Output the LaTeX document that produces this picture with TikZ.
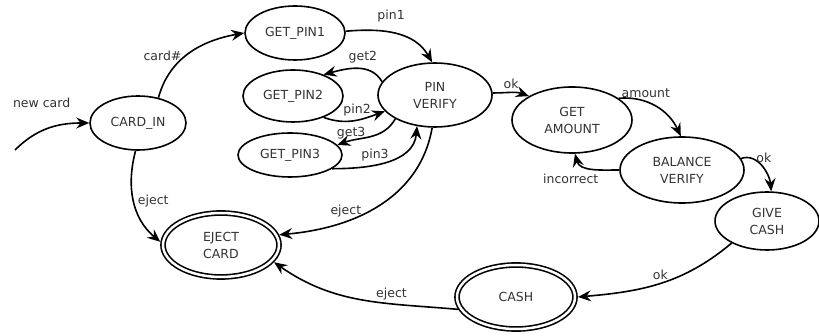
\documentclass[tikz,border=0pt]{standalone}
\usepackage{fontspec}
\setmainfont{DejaVu Sans}
\usetikzlibrary{shapes.geometric,arrows.meta}

\begin{document}
\begin{tikzpicture}[x=1pt, y=1pt, font=\fontsize{12.5}{17}\selectfont,
        st/.style={ellipse, draw, line width=1.6pt, inner sep=0pt, align=center, text=black!80},
        fin/.style={st, double, double distance=2.5pt, outer sep=3pt},
        tr/.style={line width=1.6pt, -{Stealth[length=13pt, width=11pt, inset=4.5pt]}},
        lb/.style={text=black!80}]
            \useasboundingbox (0,0) rectangle (819,-336);
            % states
            \node[st, minimum width=96, minimum height=54] (cardin) at (138,-123) {CARD\_IN};
            \node[st, minimum width=100, minimum height=54] (getpin1) at (295,-33) {GET\_PIN1};
            \node[st, minimum width=100, minimum height=52] (getpin2) at (293,-96) {GET\_PIN2};
            \node[st, minimum width=104, minimum height=44] (getpin3) at (290,-155) {GET\_PIN3};
            \node[st, minimum width=114, minimum height=64] (pinverify) at (435,-95) {PIN\\VERIFY};
            \node[st, minimum width=120, minimum height=66] (getamount) at (572,-120) {GET\\AMOUNT};
            \node[st, minimum width=124, minimum height=66] (balance) at (682,-170) {BALANCE\\VERIFY};
            \node[st, minimum width=104, minimum height=58] (givecash) at (767,-221) {GIVE\\CASH};
            \node[fin, minimum width=116, minimum height=64] (ejectcard) at (221,-245) {EJECT\\CARD};
            \node[fin, minimum width=118, minimum height=64] (cash) at (516,-297) {CASH};
            \coordinate (newin) at (15,-150);

            % transitions
            \draw[tr] (newin) to[out=45, in=180] node[lb, pos=0.4, yshift=28pt] (lnew) {new card} (cardin.west);
            \draw[tr] (cardin.51) to[out=75, in=190] node[lb, pos=0.45, left] (lcard) {card\#} (getpin1.west);
            \draw[tr] (getpin1.2) to[out=5, in=120] node[lb, pos=0.45, above=6pt] (lpin1) {pin1} (pinverify.95);
            \draw[tr] (pinverify.166) to[out=120, in=15] node[lb, pos=0.4, above=2pt] (lget2) {get2} (getpin2.35);
            \draw[tr] (getpin2.-35) to[out=-20, in=200] node[lb, pos=0.55, above] (lpin2) {pin2} (pinverify.198);
            \draw[tr] (pinverify.211) to[out=240, in=20] node[lb, pos=0.8, above, yshift=-2pt] (lget3) {get3} (getpin3.12);
            \draw[tr] (getpin3.-18) to[out=0, in=265] node[lb, pos=0.38, above] (lpin3) {pin3} (pinverify.240);
            \draw[tr] (pinverify.265) to[out=260, in=5] node[lb, pos=0.68, above] (lej1) {eject} (ejectcard.10);
            \draw[tr] (cardin.265) to[out=255, in=140] node[lb, midway, right] (lej2) {eject} (ejectcard.177);
            \draw[tr] (pinverify.2) to[out=0, in=160] node[lb, midway, above] (lok1) {ok} (getamount.151);
            \draw[tr] (getamount.25) to[out=5, in=115] node[lb, pos=0.35, above] (lamount) {amount} (balance.92);
            \draw[tr] (balance.180) to[out=180, in=-75] node[lb, pos=0.3, below left] (lincor) {incorrect} (getamount.-85);
            \draw[tr] (balance.11) to[out=20, in=95] node[lb, pos=0.4, above right, xshift=-6pt, yshift=-4pt] (lok2) {ok} (givecash.82);
            \draw[tr] (givecash.212) to[out=220, in=5] node[lb, midway, above] (lok3) {ok} (cash.east);
            \draw[tr] (cash.192) to[out=175, in=-35] node[lb, pos=0.33, above] (lej3) {eject} (ejectcard.-18);
\end{tikzpicture}
\end{document}
